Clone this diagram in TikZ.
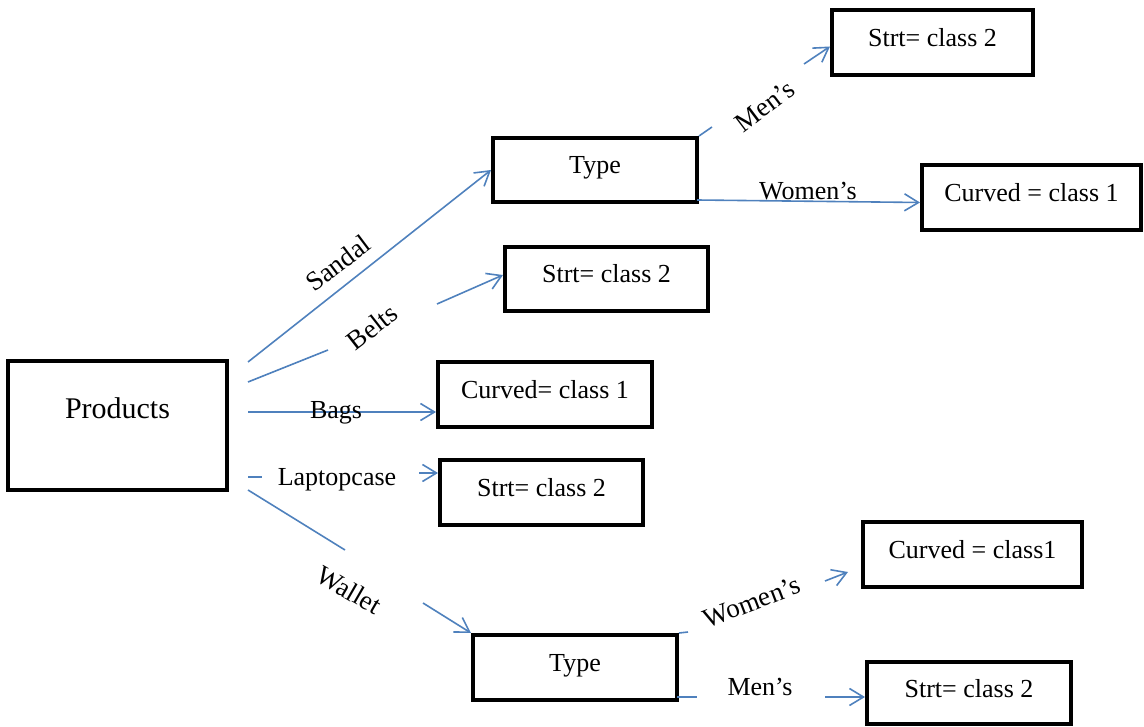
\documentclass[tikz,border=0pt]{standalone}
\usepackage{fontspec}
\setmainfont{Liberation Serif}
\usetikzlibrary{arrows.meta,calc}
\definecolor{conn}{RGB}{79,129,189}
\begin{document}
\begin{tikzpicture}[x=1pt,y=-1pt,
  box/.style={draw=black,line width=4pt,inner sep=0pt,text height=18pt,text depth=10pt,font=\fontsize{26}{30}\selectfont},
  lbl/.style={inner sep=0pt,anchor=base,font=\fontsize{26}{30}\selectfont},
  rlbl/.style={inner sep=0pt,font=\fontsize{27}{30}\selectfont},
  link/.style={draw=conn,line width=1.6pt},
  arr/.style={link,-{Straight Barb[length=14pt,width=17pt]}}]
\useasboundingbox (0,0) rectangle (1144,727);
% boxes
\node[box,minimum width=219pt,minimum height=129pt,text height=14pt,text depth=29pt,font=\fontsize{30}{34}\selectfont] (prod) at (117.5,425.5) {Products};
\node[box,minimum width=204pt,minimum height=64pt] (t1) at (595,170) {Type};
\node[box,minimum width=201pt,minimum height=65pt] (s1) at (932.5,42.5) {Strt= class 2};
\node[box,minimum width=219pt,minimum height=65pt] (c1) at (1031.5,197.5) {Curved = class 1};
\node[box,minimum width=203pt,minimum height=64pt] (s2) at (606.5,279) {Strt= class 2};
\node[box,minimum width=214pt,minimum height=65pt] (c2) at (545,394.5) {Curved= class 1};
\node[box,minimum width=203pt,minimum height=65pt] (s3) at (541.5,492.5) {Strt= class 2};
\node[box,minimum width=219pt,minimum height=65pt] (c3) at (972.5,554.5) {Curved = class1};
\node[box,minimum width=204pt,minimum height=65pt] (t2) at (575,667.5) {Type};
\node[box,minimum width=204pt,minimum height=62pt] (s4) at (969,693) {Strt= class 2};
% connector points
\coordinate (sandA) at (248,362);
\coordinate (beltA) at (248,382);
\coordinate (beltB) at (328,350);
\coordinate (beltC) at (437,304);
\coordinate (bagA) at (248,412);
\coordinate (lapA) at (248,477);
\coordinate (lapB) at (262,477);
\coordinate (lapC) at (419,473);
\coordinate (walA) at (248,490);
\coordinate (walB) at (345,550);
\coordinate (walC) at (423,603);
\coordinate (m1B) at (712,127);
\coordinate (m1C) at (804,64);
\coordinate (w1A) at (697,200);
\coordinate (w2B) at (688,632);
\coordinate (w2C) at (825,581);
\coordinate (w2D) at (848,572);
\coordinate (m2A) at (677,697);
\coordinate (m2B) at (697,697);
\coordinate (m2C) at (825,697);
% connectors
\draw[arr] (sandA) -- (t1.west);
\draw[link] (beltA) -- (beltB);
\draw[arr] (beltC) -- ([yshift=4pt]s2.west);
\draw[arr] (bagA) -- (c2.west |- bagA);
\draw[link] (lapA) -- (lapB);
\draw[arr] (lapC) -- (s3.west |- lapC);
\draw[link] (walA) -- (walB);
\draw[arr] (walC) -- (t2.north west);
\draw[link] (t1.north east) -- (m1B);
\draw[arr] (m1C) -- ([yshift=-4pt]s1.west);
\draw[arr] (w1A) -- ([yshift=-5pt]c1.west);
\draw[link] (t2.north east) -- (w2B);
\draw[arr] (w2C) -- (w2D);
\draw[link] (m2A) -- (m2B);
\draw[arr] (m2C) -- (s4.west |- m2C);
% labels
\node[rlbl,rotate=37] (lsand) at (338,263) {Sandal};
\node[rlbl,rotate=38] (lbelt) at (372,327) {Belts};
\node[lbl] (lbag) at (336,418) {Bags};
\node[lbl] (llap) at (337,485) {Laptopcase};
\node[rlbl,rotate=-30] (lwal) at (349,590) {Wallet};
\node[rlbl,rotate=37] (lmen1) at (765,106) {Men’s};
\node[lbl] (lwom1) at (808,200) {Women’s};
\node[rlbl,rotate=21] (lwom2) at (752,602) {Women’s};
\node[lbl] (lmen2) at (760,695) {Men’s};
\end{tikzpicture}
\end{document}
